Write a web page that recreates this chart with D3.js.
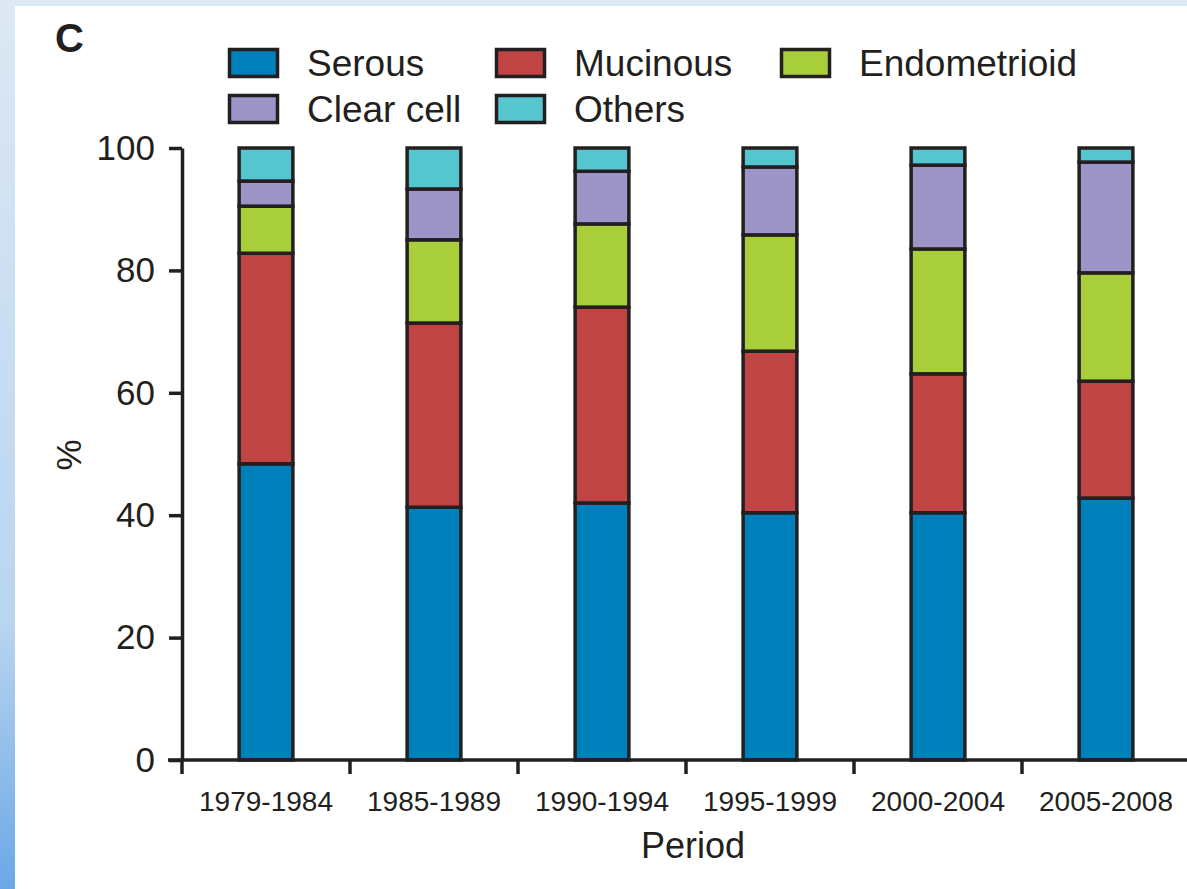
<!DOCTYPE html>
<html>
<head>
<meta charset="utf-8">
<script src="https://cdn.jsdelivr.net/npm/d3@7"></script>
<style>
  body { margin: 0; background: #ffffff; }
  svg { display: block; font-family: "Liberation Sans", Arial, sans-serif; }
</style>
</head>
<body>
<svg id="chart" width="1187" height="889"></svg>
<script>
// data (percent of cases per period)
var periods = ["1979-1984", "1985-1989", "1990-1994", "1995-1999", "2000-2004", "2005-2008"];
var types = ["Serous", "Mucinous", "Endometrioid", "Clear cell", "Others"];
var serous       = [48.4, 41.3, 42.0, 40.4, 40.4, 42.8];
var mucinous     = [34.4, 30.1, 32.0, 26.4, 22.7, 19.1];
var endometrioid = [7.7, 13.6, 13.6, 19.0, 20.4, 17.7];
var clearCell    = [4.1, 8.3, 8.6, 11.1, 13.7, 18.1];
var others       = [5.4, 6.7, 3.8, 3.1, 2.8, 2.3];
var yTicks = [0, 20, 40, 60, 80, 100];

var colors = ["#0080bb", "#c14444", "#a8cf3a", "#9d95c8", "#55c5d0"];
var ink = "#231f20";

var svg = d3.select("#chart");

// page decoration: light blue frame on top / left
var defs = svg.append("defs");
var grad = defs.append("linearGradient").attr("id", "side").attr("x1", 0).attr("y1", 0).attr("x2", 0).attr("y2", 1);
grad.append("stop").attr("offset", "0%").attr("stop-color", "#dce8f5");
grad.append("stop").attr("offset", "70%").attr("stop-color", "#b9d5f0");
grad.append("stop").attr("offset", "100%").attr("stop-color", "#6aa8e6");
svg.append("rect").attr("x", 0).attr("y", 0).attr("width", 1187).attr("height", 889).attr("fill", "url(#side)");
svg.append("rect").attr("x", 0).attr("y", 0).attr("width", 1187).attr("height", 7).attr("fill", "#dce8f5");
svg.append("rect").attr("x", 15).attr("y", 6).attr("width", 1172).attr("height", 883).attr("fill", "#ffffff");

var margin = {left: 182, top: 148, right: 1190, bottom: 760};

var x = d3.scaleBand().domain(periods).range([margin.left, margin.right]).paddingInner(0.68).paddingOuter(0.34);
var xTick = d3.scalePoint().domain(d3.range(periods.length + 1)).range([margin.left, margin.right]);
var y = d3.scaleLinear().domain([0, 100]).range([margin.bottom, margin.top]);

// build table for the stack
var table = periods.map(function(p, i){
    return {period: p, "Serous": serous[i], "Mucinous": mucinous[i], "Endometrioid": endometrioid[i],
            "Clear cell": clearCell[i], "Others": others[i]};
});
var series = d3.stack().keys(types)(table);

// bars
svg.append("g").selectAll("g").data(series).enter().append("g")
    .attr("fill", function(d, i){ return colors[i]; })
    .selectAll("rect").data(function(d){ return d; }).enter().append("rect")
    .attr("x", function(d){ return x(d.data.period); })
    .attr("width", x.bandwidth())
    .attr("y", function(d){ return y(Math.min(d[1], 100)); })
    .attr("height", function(d){ return y(d[0]) - y(Math.min(d[1], 100)); })
    .attr("stroke", ink)
    .attr("stroke-width", 3.5);

// y axis
var yAxis = svg.append("g").attr("transform", "translate(" + margin.left + ",0)")
    .call(d3.axisLeft(y).tickValues(yTicks).tickSize(13).tickPadding(14).tickSizeOuter(0));
yAxis.select(".domain").attr("stroke", ink).attr("stroke-width", 3.5);
yAxis.selectAll(".tick line").attr("stroke", ink).attr("stroke-width", 3.5);
yAxis.selectAll(".tick text").attr("font-size", 35).attr("fill", "#231f20")
    .attr("font-family", "Liberation Sans, Arial, sans-serif");

// x axis: ticks at band boundaries
var xAxisG = svg.append("g").attr("transform", "translate(0," + margin.bottom + ")");
xAxisG.append("line").attr("x1", 168).attr("x2", 1187).attr("y1", 0).attr("y2", 0)
    .attr("stroke", ink).attr("stroke-width", 3.5);
xAxisG.selectAll("line.tk").data(d3.range(periods.length + 1)).enter().append("line")
    .attr("class", "tk")
    .attr("x1", function(d){ return xTick(d); }).attr("x2", function(d){ return xTick(d); })
    .attr("y1", 0).attr("y2", 14)
    .attr("stroke", ink).attr("stroke-width", 3.5);
xAxisG.selectAll("text").data(periods).enter().append("text")
    .attr("x", function(d){ return x(d) + x.bandwidth() / 2; })
    .attr("y", 51)
    .attr("text-anchor", "middle")
    .attr("font-size", 28)
    .attr("fill", ink)
    .text(function(d){ return d; });

// axis titles
svg.append("text").attr("x", 693).attr("y", 858).attr("text-anchor", "middle")
    .attr("font-size", 36).attr("fill", ink).text("Period");
svg.append("text").attr("transform", "translate(81,455) rotate(-90)").attr("text-anchor", "middle")
    .attr("font-size", 35).attr("fill", ink).text("%");

// panel letter
svg.append("text").attr("x", 55).attr("y", 52).attr("font-size", 40).attr("font-weight", "bold")
    .attr("fill", ink).text("C");

// legend
var legendPos = [[228, 48], [495, 48], [780, 48], [228, 94], [495, 94]];
var legend = svg.append("g").selectAll("g").data(types).enter().append("g")
    .attr("transform", function(d, i){ return "translate(" + legendPos[i][0] + "," + legendPos[i][1] + ")"; });
legend.append("rect").attr("x", 1.5).attr("y", 1.5).attr("width", 48).attr("height", 27)
    .attr("fill", function(d, i){ return colors[i]; })
    .attr("stroke", ink).attr("stroke-width", 3.5);
legend.append("text").attr("x", 79).attr("y", 28).attr("font-size", 37).attr("fill", ink)
    .text(function(d){ return d; });
</script>
</body>
</html>
